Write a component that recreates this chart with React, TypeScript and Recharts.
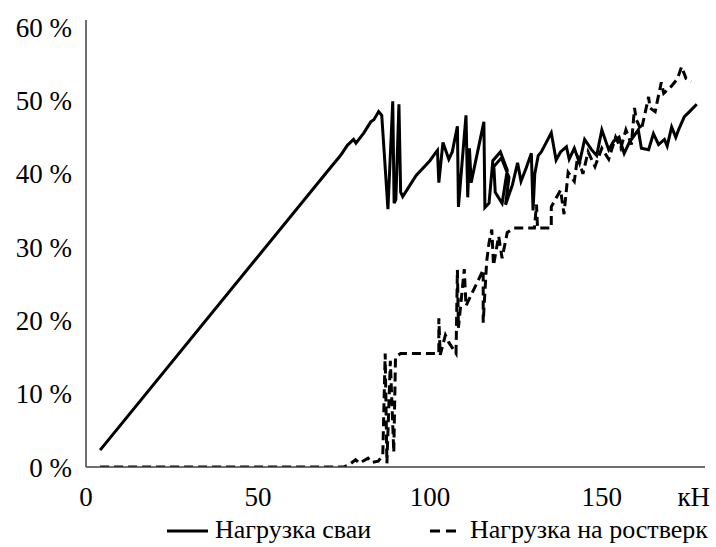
import { LineChart, Line, XAxis, YAxis, Legend, Label } from "recharts";

const FONT = "Liberation Serif, Tinos, Times New Roman, DejaVu Serif, serif";

// оси
const xTicks = [0, 50, 100, 150];
const yTicks = [0, 10, 20, 30, 40, 50, 60];

// Нагрузка сваи: кН / доля, %
const pileLoad = [
    4.1, 71, 74, 76, 77.8, 78.5, 80.8, 82.8, 83.7, 85.1, 86.0, 87.8, 89.2, 89.6, 90.1, 91.0, 91.5, 92.1,
    96, 100, 101.2, 102.2, 102.6, 103.8, 105.5, 106.5, 108.0, 108.3, 110.5, 111.0, 111.5, 112.0, 115.7,
    116.0, 117.2, 118.3, 120.5, 122.5, 121.0, 119.0, 118.6, 120.8, 123.0, 122.0, 124.0, 125.5, 126.5,
    128.0, 129.5, 130.0, 130.5, 131.5,
    132.4, 135.3, 136.7, 138.0, 139.7, 140.5, 142.0, 143.5, 145.0, 147.0, 148.5, 150.0, 152.0, 153.5,
    155.0, 156.5, 158.0, 160.6, 161.5, 163.6, 165.0, 166.5, 168.2, 169.0, 170.3, 171.5, 172.3, 174.0,
    175.5, 177.6,
];
const pileShare = [
    2.3, 40.8, 42.5, 43.9, 44.7, 44.2, 45.6, 47.1, 47.4, 48.5, 48.0, 35.2, 49.9, 36.0, 36.5, 49.5, 37.5, 36.9,
    39.8, 41.8, 42.6, 43.2, 38.8, 44.3, 42.0, 43.0, 46.5, 35.5, 48.0, 36.8, 43.5, 38.8, 47.1,
    35.4, 36.0, 41.8, 43.0, 40.5, 36.0, 37.5, 41.0, 42.2, 39.5, 35.8, 38.5, 41.5, 39.0,
    40.8, 42.8, 35.0, 40.0, 42.5,
    43.0, 45.6, 41.9, 43.0, 43.7, 42.0, 43.5, 41.5, 44.7, 43.3, 42.5, 46.0, 43.3, 44.5,
    45.0, 42.8, 44.3, 46.0, 43.5, 43.3, 45.5, 44.0, 44.7, 43.8, 46.4, 45.0, 46.0, 47.8,
    48.5, 49.5,
];

// Нагрузка на ростверк: кН / доля, %
const raftLoad = [
    4.1, 75, 76.5, 78.4, 79.5, 82, 83, 85, 86.3, 87.0, 87.5, 88.5, 89.5, 90.0, 91.5, 102.6, 102.6, 103.0,
    104.5, 105.5, 107.6, 108.0, 108.3, 110.0, 110.5, 115.5, 115.5, 116.5, 117.2, 118.0, 118.5, 120.0,
    121.0, 122.5, 124.5, 130.4, 131.0, 131.3, 135.3, 135.3, 138.0, 139.0, 140.2, 142.0, 143.0, 144.5,
    146.0, 148.0, 150.0, 152.0, 154.0, 155.5, 157.0, 158.6, 159.5, 160.0, 161.5, 163.6, 164.0, 165.5,
    167.3, 168.0, 170.3, 172.0, 173.2, 174.5, 176.0,
];
const raftShare = [
    0, 0, 0.3, 1.0, 0.5, 1.2, 0.6, 0.8, 1.6, 15.5, 0.5, 14.5, 2.0, 15.0, 15.5, 15.5, 20.3, 15.3,
    18.0, 17.0, 15.5, 26.9, 19.0, 27.0, 22.0, 26.9, 19.7, 28.0, 30.6, 32.4, 27.5, 31.5,
    28.5, 32.0, 32.6, 32.6, 35.8, 32.6, 32.6, 35.5, 37.8, 34.5, 40.2, 39.0, 42.5, 40.0,
    43.0, 41.0, 43.5, 42.0, 45.0, 43.5, 46.0, 44.0, 49.0, 47.4, 46.0, 50.5, 49.0, 48.5,
    52.5, 51.0, 52.0, 53.0, 54.6, 53.0, 52.6,
];

const pileData = pileLoad.map((x, i) => ({ x, y: pileShare[i] }));
const raftData = raftLoad.map((x, i) => ({ x, y: raftShare[i] }));

const tickStyle = { fill: "#000", fontSize: 27, fontFamily: FONT };

function LegendContent() {
    const text = { position: "absolute" as const, top: 16, fontSize: 26, fontFamily: FONT, lineHeight: "34px", color: "#000" };
    return (
        <div style={{ position: "relative", width: 716, height: 45 }}>
            <svg width={716} height={45} style={{ position: "absolute", left: 0, top: 0 }}>
                <line x1={167} x2={208} y1={34} y2={34} stroke="#000" strokeWidth={3} />
                <line x1={430} x2={460} y1={34} y2={34} stroke="#000" strokeWidth={3} strokeDasharray="10 6" />
            </svg>
            <span style={{ ...text, left: 215 }}>Нагрузка сваи</span>
            <span style={{ ...text, left: 470 }}>Нагрузка на ростверк</span>
        </div>
    );
}

export default function App() {
    return (
        <div style={{ position: "absolute", left: 0, top: 0, width: 716, height: 547, background: "#fff", fontFamily: FONT }}>
            <LineChart width={716} height={547} margin={{ top: 20, right: 11, bottom: 5, left: 0 }} style={{ fontFamily: FONT }}>
                <XAxis
                    type="number"
                    dataKey="x"
                    domain={[0, 180]}
                    ticks={xTicks}
                    allowDataOverflow
                    height={30}
                    tickSize={0}
                    tickMargin={20}
                    tickLine={false}
                    axisLine={{ stroke: "#404040", strokeWidth: 1.5 }}
                    tick={tickStyle}
                >
                    <Label
                        content={(props: any) => {
                            const vb = props.viewBox;
                            return (
                                <text x={vb.x + vb.width + 5} y={vb.y + 20} dy="0.71em" textAnchor="end" fontSize={27} fontFamily={FONT} fill="#000">
                                    кН
                                </text>
                            );
                        }}
                    />
                </XAxis>
                <YAxis
                    type="number"
                    domain={[0, 61]}
                    ticks={yTicks}
                    allowDataOverflow
                    width={86}
                    tickSize={0}
                    tickMargin={14}
                    tickLine={false}
                    axisLine={{ stroke: "#404040", strokeWidth: 1.5 }}
                    tick={tickStyle}
                    tickFormatter={(v: number) => `${v} %`}
                />
                <Line data={raftData} dataKey="y" name="Нагрузка на ростверк" stroke="#000" strokeWidth={3} strokeDasharray="9 5" dot={false} isAnimationActive={false} />
                <Line data={pileData} dataKey="y" name="Нагрузка сваи" stroke="#000" strokeWidth={3} dot={false} isAnimationActive={false} />
                <Legend verticalAlign="bottom" height={45} wrapperStyle={{ left: 0, width: 716 }} content={() => <LegendContent />} />
            </LineChart>
        </div>
    );
}
